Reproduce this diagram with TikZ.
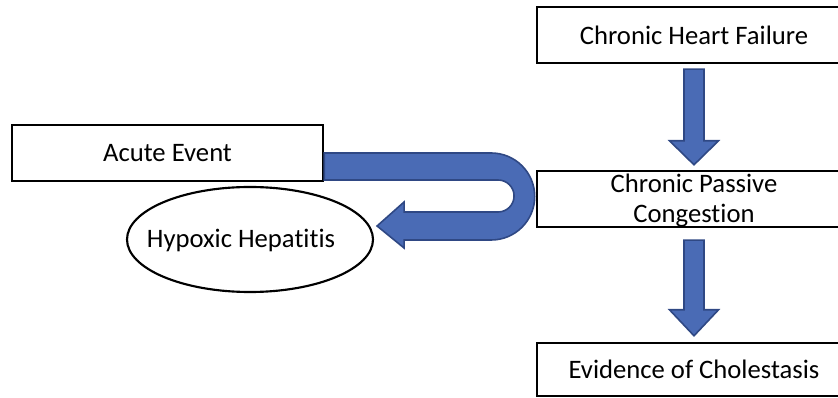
\documentclass[tikz,border=0pt]{standalone}
\usepackage{fontspec}
\setmainfont[Ligatures=NoCommon]{Carlito}
\usetikzlibrary{calc,shapes.geometric}

\tikzset{every picture/.style={line width=0.75pt}}
\definecolor{arrowblue}{RGB}{74,107,181}
\definecolor{arrowedge}{RGB}{47,72,132}

\begin{document}
\begin{tikzpicture}[x=0.75pt,y=0.75pt,yscale=-1,xscale=1,
  box/.style={draw=black, line width=1.8, fill=white, rectangle, inner sep=0pt, minimum width=235.5pt, minimum height=42pt},
  oval/.style={draw=black, line width=1.6, ellipse, inner sep=0pt, minimum width=184.5pt, minimum height=78.75pt},
  txt/.style={font=\fontsize{20}{22.5}\selectfont, inner sep=0.75pt, align=center},
  blockarrow/.style={draw=arrowedge, fill=arrowblue, line width=1.2, line join=miter}]
\useasboundingbox (0,0) rectangle (838,398);
\clip (0,0) rectangle (838,398);

%Shape: Rectangle
\node [box] (chf) at (694,35) {};
\node [box] (cpc) at (694,199) {};
\node [box, minimum height=39.75pt] (evid) at (694,369.5) {};
\node [box, minimum width=233.25pt] (acute) at (167.5,153) {};
%Shape: Ellipse
\node [oval] (hyp) at (250,239.5) {};

% Text Node
\node [txt] (chftext) at (chf) {Chronic Heart Failure};
% Text Node
\node [txt] (cpctext) at (694,201) {Chronic Passive\\Congestion};
% Text Node
\node [txt] (evidtext) at (evid) {Evidence of Cholestasis};
% Text Node
\node [txt] (acutetext) at (acute) {Acute Event};
% Text Node
\node [txt] (hyptext) at (241,240) {Hypoxic Hepatitis};

%Block Arrow: down
\draw [blockarrow] ($(chf.south)+(-10,5)$) -- ($(cpc.north)+(-10,-29)$) -- ($(cpc.north)+(-24.5,-29)$) -- ($(cpc.north)+(0,-5)$) -- ($(cpc.north)+(24.5,-29)$) -- ($(cpc.north)+(10,-29)$) -- ($(chf.south)+(10,5)$) -- cycle ;
%Block Arrow: down
\draw [blockarrow] ($(cpc.south)+(-10,12)$) -- ($(evid.north)+(-10,-32)$) -- ($(evid.north)+(-24.5,-32)$) -- ($(evid.north)+(0,-6)$) -- ($(evid.north)+(24.5,-32)$) -- ($(evid.north)+(10,-32)$) -- ($(cpc.south)+(10,12)$) -- cycle ;

%Block Arrow: U-turn
\coordinate (utip) at ($(hyp.east)+(3,-13.5)$);
\draw [blockarrow] (acute.east) -- ++(167,0) arc[start angle=-90, end angle=90, radius=43.5] -- ($(utip)+(27,14)$) -- ($(utip)+(27,22)$) -- (utip) -- ($(utip)+(27,-24)$) -- ($(utip)+(27,-14)$) -- ($(utip)+(121,-14)$) arc[start angle=90, end angle=-90, radius=16] -- ($(acute.east)+(0,27)$) -- cycle ;

\end{tikzpicture}
\end{document}
